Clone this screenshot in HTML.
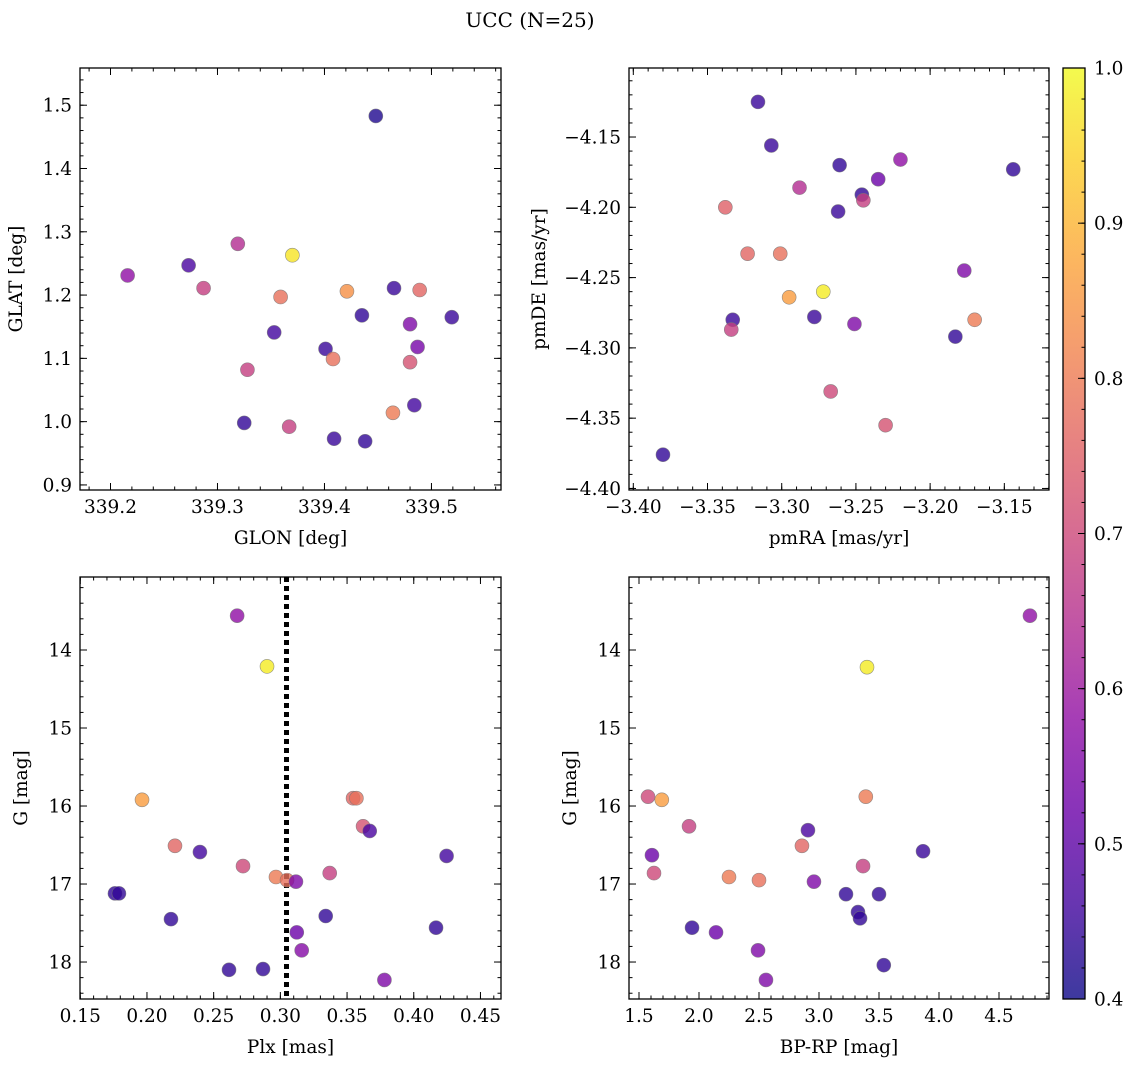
<!DOCTYPE html>
<html><head><meta charset="utf-8"><style>
html,body{margin:0;padding:0;background:#fff;}
svg text{font-family:"DejaVu Serif","Liberation Serif",serif;fill:#000;}
</style></head>
<body>
<svg id="fig" xmlns="http://www.w3.org/2000/svg" width="1136" height="1067" viewBox="0 0 1136 1067">
<defs>
<linearGradient id="plasma" x1="0" y1="1" x2="0" y2="0">
<stop offset="0" stop-color="#0d0887"/><stop offset="0.1" stop-color="#41049d"/><stop offset="0.2" stop-color="#6a00a8"/><stop offset="0.3" stop-color="#8f0da4"/><stop offset="0.4" stop-color="#b12a90"/><stop offset="0.5" stop-color="#cc4778"/><stop offset="0.6" stop-color="#e16462"/><stop offset="0.7" stop-color="#f2844b"/><stop offset="0.8" stop-color="#fca636"/><stop offset="0.9" stop-color="#fcce25"/><stop offset="1" stop-color="#f0f921"/>
</linearGradient>
</defs>
<text x="530" y="27" font-size="20" text-anchor="middle">UCC (N=25)</text>
</svg>
<script>
// Panel 1: GLON vs GLAT
const glonX = [339.448,339.216,339.273,339.287,339.319,339.370,339.359,339.421,339.465,339.489,339.519,339.435,339.353,339.401,339.408,339.480,339.487,339.480,339.328,339.325,339.367,339.409,339.438,339.464,339.484];
const glatY = [1.483,1.231,1.247,1.211,1.281,1.263,1.197,1.206,1.211,1.208,1.165,1.168,1.141,1.115,1.099,1.154,1.118,1.094,1.082,0.998,0.992,0.973,0.969,1.014,1.026];
const glonC = [0.42,0.58,0.47,0.68,0.64,0.97,0.78,0.84,0.45,0.76,0.45,0.44,0.46,0.45,0.78,0.55,0.54,0.72,0.68,0.44,0.68,0.45,0.44,0.80,0.46];
// Panel 2: pmRA vs pmDE
const pmraX = [-3.316,-3.307,-3.261,-3.220,-3.144,-3.235,-3.288,-3.246,-3.245,-3.262,-3.338,-3.323,-3.301,-3.177,-3.272,-3.295,-3.170,-3.333,-3.278,-3.251,-3.334,-3.183,-3.267,-3.230,-3.380];
const pmdeY = [-4.125,-4.156,-4.170,-4.166,-4.173,-4.180,-4.186,-4.191,-4.195,-4.203,-4.200,-4.233,-4.233,-4.245,-4.260,-4.264,-4.280,-4.280,-4.278,-4.283,-4.287,-4.292,-4.331,-4.355,-4.376];
const pmC = [0.45,0.45,0.44,0.58,0.44,0.52,0.64,0.44,0.68,0.45,0.75,0.76,0.78,0.55,0.98,0.86,0.80,0.45,0.45,0.55,0.68,0.44,0.70,0.72,0.44];
// Panel 3: Plx vs G
const plxX = [0.2676,0.290,0.1963,0.3545,0.357,0.362,0.367,0.221,0.2397,0.272,0.4246,0.337,0.2967,0.305,0.3117,0.176,0.179,0.218,0.334,0.3123,0.4167,0.316,0.287,0.2615,0.378];
const plxG = [13.56,14.21,15.92,15.90,15.90,16.26,16.32,16.51,16.59,16.77,16.64,16.86,16.91,16.95,16.97,17.12,17.12,17.45,17.41,17.62,17.56,17.85,18.09,18.10,18.23];
const plxC = [0.58,0.98,0.86,0.76,0.78,0.72,0.47,0.76,0.46,0.70,0.46,0.68,0.80,0.78,0.55,0.44,0.44,0.44,0.44,0.52,0.44,0.56,0.44,0.44,0.55];
const plxLine = [0.3046];
// Panel 4: BP-RP vs G
const bprpX = [4.758,3.40,1.575,1.69,3.39,1.917,2.908,2.858,1.608,3.867,1.625,3.367,2.25,2.50,2.958,3.225,3.50,3.325,3.342,1.942,2.142,2.492,3.54,2.558];
const bprpG = [13.56,14.22,15.88,15.92,15.88,16.26,16.31,16.51,16.63,16.58,16.86,16.77,16.91,16.95,16.97,17.13,17.13,17.36,17.44,17.56,17.62,17.85,18.04,18.23];
const bprpC = [0.58,0.98,0.70,0.86,0.80,0.68,0.47,0.76,0.52,0.45,0.70,0.68,0.80,0.78,0.55,0.44,0.44,0.44,0.44,0.44,0.52,0.55,0.44,0.55];
// Tick labels
const p1XTicks = [339.2,339.3,339.4,339.5];
const p1YTicks = [0.9,1.0,1.1,1.2,1.3,1.4,1.5];
const p2XTicks = [-3.40,-3.35,-3.30,-3.25,-3.20,-3.15];
const p2YTicks = [-4.40,-4.35,-4.30,-4.25,-4.20,-4.15];
const p3XTicks = [0.15,0.20,0.25,0.30,0.35,0.40,0.45];
const gTicks = [14,15,16,17,18];
const p4XTicks = [1.5,2.0,2.5,3.0,3.5,4.0,4.5];
const cbTicks = [0.4,0.5,0.6,0.7,0.8,0.9,1.0];

const NS = "http://www.w3.org/2000/svg";
const svg = document.getElementById('fig');
const FS = 18.5;
const stops = [[13,8,135],[65,4,157],[106,0,168],[143,13,164],[177,42,144],[204,71,120],[225,100,98],[242,132,75],[252,166,54],[252,206,37],[240,249,33]];
function plasma(v){
  let t = Math.max(0, Math.min(1, (v-0.4)/0.6))*10;
  let i = Math.min(9, Math.floor(t)), f = t-i;
  const a = stops[i], b = stops[i+1];
  return 'rgb(' + a.map((x,k)=>Math.round(x+(b[k]-x)*f)).join(',') + ')';
}
function mk(tag, attrs, parent){
  const e = document.createElementNS(NS, tag);
  for (const k in attrs) e.setAttribute(k, attrs[k]);
  (parent||svg).appendChild(e);
  return e;
}
function lin(d0,d1,r0,r1){ return v => r0 + (v-d0)/(d1-d0)*(r1-r0); }
function fmt(v,dec){ const s = Math.abs(v).toFixed(dec); return (v<0?'\u2212':'') + s; }

function panel(cfg){
  const g = mk('g', {});
  
  
  const sx = lin(cfg.xmin,cfg.xmax,cfg.x0,cfg.x1);
  const sy = cfg.invert ? lin(cfg.ymin,cfg.ymax,cfg.y0,cfg.y1) : lin(cfg.ymin,cfg.ymax,cfg.y1,cfg.y0);
  const tg = mk('g', {stroke:'#000','stroke-width':1}, g);
  
  
  const eps = 1e-9;
  for (let v = Math.ceil(cfg.xmin/cfg.xminor-eps)*cfg.xminor; v <= cfg.xmax+eps; v += cfg.xminor){
    const x = sx(v); if (x < cfg.x0-0.5 || x > cfg.x1+0.5) continue;
    mk('line',{x1:x,x2:x,y1:cfg.y1,y2:cfg.y1-3.5},tg); mk('line',{x1:x,x2:x,y1:cfg.y0,y2:cfg.y0+3.5},tg);
  }
  for (let v = Math.ceil(Math.min(cfg.ymin,cfg.ymax)/cfg.yminor-eps)*cfg.yminor; v <= Math.max(cfg.ymin,cfg.ymax)+eps; v += cfg.yminor){
    const y = sy(v); if (y < cfg.y0-0.5 || y > cfg.y1+0.5) continue;
    mk('line',{x1:cfg.x0,x2:cfg.x0+3.5,y1:y,y2:y},tg); mk('line',{x1:cfg.x1,x2:cfg.x1-3.5,y1:y,y2:y},tg);
  }
  cfg.xt.forEach(v=>{
    const x = sx(v);
    mk('line',{x1:x,x2:x,y1:cfg.y1,y2:cfg.y1-7},tg); mk('line',{x1:x,x2:x,y1:cfg.y0,y2:cfg.y0+7},tg);
    const t = mk('text',{x:x,y:cfg.y1+23,'font-size':FS,'text-anchor':'middle'},g);
    t.textContent = fmt(v,cfg.xdec);
    
    
  });
  cfg.yt.forEach(v=>{
    const y = sy(v);
    mk('line',{x1:cfg.x0,x2:cfg.x0+7,y1:y,y2:y},tg); mk('line',{x1:cfg.x1,x2:cfg.x1-7,y1:y,y2:y},tg);
    const t = mk('text',{x:cfg.x0-8,y:y+6.5,'font-size':FS,'text-anchor':'end'},g);
    t.textContent = fmt(v,cfg.ydec);
    
    
  });
  if (cfg.vline){
    cfg.vline.forEach(v=>{
      const l = mk('line',{x1:sx(v),x2:sx(v),y1:cfg.y0,y2:cfg.y1,stroke:'#000','stroke-width':5,'stroke-dasharray':'5,4'},g);
      
      
    });
  }
  cfg.xs.forEach((v,i)=>{
    const c = mk('circle',{cx:sx(v),cy:sy(cfg.ys[i]),r:7,fill:plasma(cfg.cs[i]),'fill-opacity':0.8,stroke:'#777','stroke-width':0.6,'stroke-opacity':0.8},g);
    
    
  });
  const fr = mk('rect',{x:cfg.x0,y:cfg.y0,width:cfg.x1-cfg.x0,height:cfg.y1-cfg.y0,fill:'none',stroke:'#000','stroke-width':1.3},g);
  
  
  const xl = mk('text',{x:(cfg.x0+cfg.x1)/2,y:cfg.y1+54,'font-size':FS,'text-anchor':'middle'},g);
  xl.textContent = cfg.xlabel;
  
  
  const ym = (cfg.y0+cfg.y1)/2;
  const yl = mk('text',{x:cfg.ylx,y:ym,'font-size':FS,'text-anchor':'middle',transform:'rotate(-90 '+cfg.ylx+' '+ym+')'},g);
  yl.textContent = cfg.ylabel;
  
  
}

panel({name:'glon-glat-panel',x0:80,x1:501,y0:68,y1:490,xmin:339.1715,xmax:339.565,ymin:0.892,ymax:1.5588,xminor:0.02,yminor:0.02,xt:p1XTicks,yt:p1YTicks,xdec:1,ydec:1,xs:glonX,ys:glatY,cs:glonC,xlabel:'GLON [deg]',ylabel:'GLAT [deg]',ylx:22});
panel({name:'pm-panel',x0:629,x1:1049,y0:68,y1:490,xmin:-3.4029,xmax:-3.1199,ymin:-4.4011,ymax:-4.1009,xminor:0.01,yminor:0.01,xt:p2XTicks,yt:p2YTicks,xdec:2,ydec:2,xs:pmraX,ys:pmdeY,cs:pmC,xlabel:'pmRA [mas/yr]',ylabel:'pmDE [mas/yr]',ylx:545});
panel({name:'plx-g-panel',x0:80,x1:501,y0:577,y1:999,xmin:0.1498,xmax:0.4654,ymin:13.064,ymax:18.474,invert:true,xminor:0.01,yminor:0.2,xt:p3XTicks,yt:gTicks,xdec:2,ydec:0,xs:plxX,ys:plxG,cs:plxC,vline:plxLine,xlabel:'Plx [mas]',ylabel:'G [mag]',ylx:27});
panel({name:'cmd-panel',x0:629,x1:1049,y0:577,y1:999,xmin:1.4167,xmax:4.9167,ymin:13.064,ymax:18.474,invert:true,xminor:0.1,yminor:0.2,xt:p4XTicks,yt:gTicks,xdec:1,ydec:0,xs:bprpX,ys:bprpG,cs:bprpC,xlabel:'BP-RP [mag]',ylabel:'G [mag]',ylx:576});

// colorbar
const cb = mk('g',{});


const cx0=1063, cx1=1085, cy0=68, cy1=999;
const cs = lin(0.4,1.0,cy1,cy0);
mk('rect',{x:cx0,y:cy0,width:cx1-cx0,height:cy1-cy0,fill:'url(#plasma)','fill-opacity':0.8},cb);
for (let v=0.42; v<1.0-1e-9; v+=0.02){ const y=cs(v); mk('line',{x1:cx1,x2:cx1-3.5,y1:y,y2:y,stroke:'#000'},cb); }
cbTicks.forEach(v=>{
  const y=cs(v);
  mk('line',{x1:cx1,x2:cx1-7,y1:y,y2:y,stroke:'#000'},cb);
  const t = mk('text',{x:cx1+9,y:y+6.5,'font-size':FS},cb);
  t.textContent = v.toFixed(1);
  
  
});
mk('rect',{x:cx0,y:cy0,width:cx1-cx0,height:cy1-cy0,fill:'none',stroke:'#000','stroke-width':1.3},cb);
</script>
</body></html>
